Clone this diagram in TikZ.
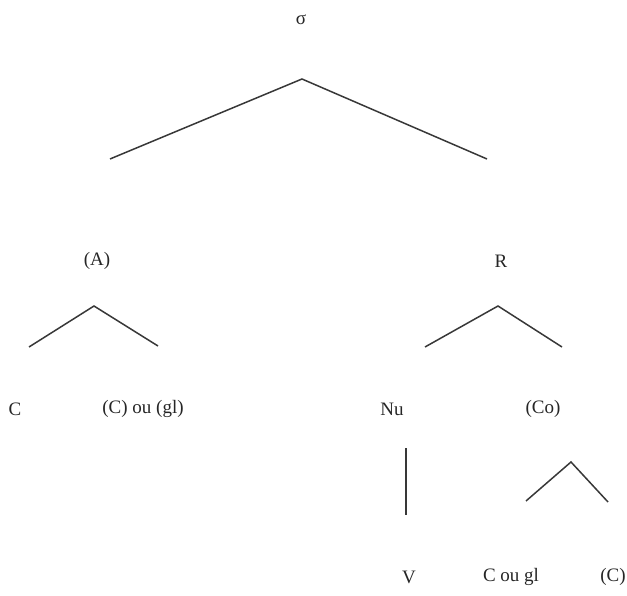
\documentclass[tikz,border=0pt]{standalone}
\usepackage{fontspec}
\setmainfont{Liberation Serif}
\begin{document}
\begin{tikzpicture}[x=1pt,y=-1pt,
  lbl/.style={inner sep=0pt, font=\fontsize{19}{22}\selectfont, text=black!85},
  branch/.style={draw=black!78, line width=1.5pt, line join=miter}]
\useasboundingbox (0,0) rectangle (627,596);
% labels
\node[lbl] (sigma) at (301,20) {σ};
\node[lbl] (A) at (97,261) {(A)};
\node[lbl] (R) at (501,261) {R};
\node[lbl] (C1) at (15,409) {C};
\node[lbl] (Cgl) at (143,409) {(C) ou (gl)};
\node[lbl] (Nu) at (392,409) {Nu};
\node[lbl] (Co) at (543,409) {(Co)};
\node[lbl] (V) at (409,577) {V};
\node[lbl] (Cougl) at (511,577) {C ou gl};
\node[lbl] (C2) at (613,577) {(C)};
% branch points
\coordinate (s0) at (302,79);
\coordinate (sL) at (110,159);
\coordinate (sR) at (487,159);
\coordinate (a0) at (94,306);
\coordinate (aL) at (29,347);
\coordinate (aR) at (158,346);
\coordinate (r0) at (498,306);
\coordinate (rL) at (425,347);
\coordinate (rR) at (562,347);
\coordinate (n0) at (406,448);
\coordinate (n1) at (406,515);
\coordinate (c0) at (571,462);
\coordinate (cL) at (526,501);
\coordinate (cR) at (608,502);
% branches
\draw[branch] (sL) -- (s0) -- (sR);
\draw[branch] (aL) -- (a0) -- (aR);
\draw[branch] (rL) -- (r0) -- (rR);
\draw[branch] (n0) -- (n1);
\draw[branch] (cL) -- (c0) -- (cR);
\end{tikzpicture}
\end{document}
